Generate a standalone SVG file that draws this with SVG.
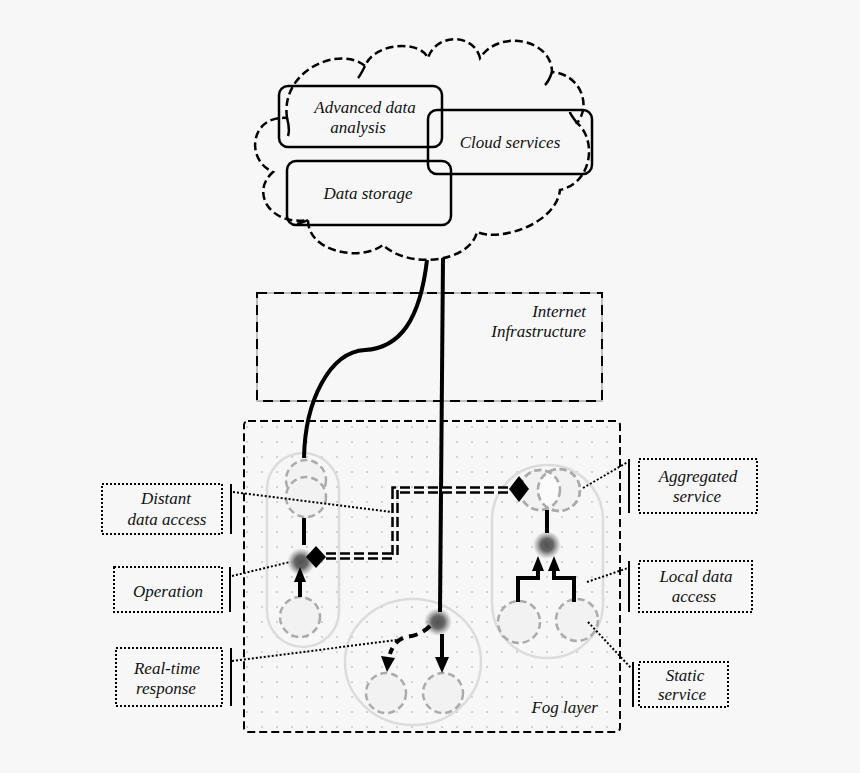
<svg xmlns="http://www.w3.org/2000/svg" width="860" height="773" viewBox="0 0 860 773">
<defs>
<style>
.t{font-family:"Liberation Serif","DejaVu Serif",serif;font-style:italic;font-size:17px;fill:#111;}
.box{fill:none;stroke:#000;stroke-width:2.5;}
.lbl{fill:#f7f7f7;stroke:#000;stroke-width:2;stroke-dasharray:2 2;}
.brk{stroke:#000;stroke-width:2;}
.lead{fill:none;stroke:#000;stroke-width:2;stroke-dasharray:2 2;}
.pill{fill:none;stroke:#dcdcdc;stroke-width:2.5;}
.c{fill:#f2f2f2;stroke:#ababab;stroke-width:2.5;stroke-dasharray:7 4;}
.thick{fill:none;stroke:#000;stroke-width:4;}
.head{fill:#000;}
</style>
<pattern id="dots" width="15" height="15" patternUnits="userSpaceOnUse">
<rect x="6" y="6" width="2" height="2" fill="#d2d2d2"/>
</pattern>
<radialGradient id="blur">
<stop offset="0" stop-color="#505050"/>
<stop offset="0.45" stop-color="#666"/>
<stop offset="1" stop-color="#888" stop-opacity="0"/>
</radialGradient>
<clipPath id="rcl"><circle cx="540" cy="490" r="20"/></clipPath>
</defs>
<rect width="860" height="773" fill="#f7f7f7"/>

<g id="cloud">
<path d="M287,118 C280,70 340,45 365,66 C375,42 420,40 428,58 C436,33 474,33 480,58 C500,28 552,40 552,72 C580,74 592,105 577,123 C596,138 594,182 560,190 C556,224 500,242 477,232 C470,262 410,270 383,245 C360,262 308,252 308,220 C270,226 250,192 273,172 C245,160 250,115 287,118 Z" fill="none" stroke="#000" stroke-width="2.5" stroke-dasharray="8 4"/>
<path d="M287,118 C289,125 290,130 288,136 M365,66 C362,72 360,76 358,78 M552,72 C550,78 548,82 545,85 M577,123 C572,116 570,114 570,112 M308,220 C304,222 300,223 297,224" fill="none" stroke="#000" stroke-width="2.5"/>
</g>

<g id="adv">
<rect class="box" x="279" y="86" width="163" height="61" rx="9"/>
<text class="t" x="365" y="113" text-anchor="middle">Advanced data</text>
<text class="t" x="358" y="133" text-anchor="middle">analysis</text>
</g>
<g id="cloudsvc">
<rect class="box" x="428" y="110" width="164" height="64" rx="9"/>
<text class="t" x="510" y="148" text-anchor="middle">Cloud services</text>
</g>
<g id="storage">
<rect class="box" x="287" y="161" width="164" height="64" rx="9"/>
<text class="t" x="368" y="199" text-anchor="middle">Data storage</text>
</g>

<g id="internet">
<rect x="257" y="293" width="345" height="108" fill="none" stroke="#aaa" stroke-width="1.5"/>
<rect x="257" y="293" width="345" height="108" fill="none" stroke="#000" stroke-width="2" stroke-dasharray="10 7"/>
<text class="t" x="586" y="317" text-anchor="end">Internet</text>
<text class="t" x="586" y="337" text-anchor="end">Infrastructure</text>
</g>

<g id="fog">
<rect x="244" y="421" width="376" height="311" rx="4" fill="url(#dots)" stroke="#000" stroke-width="2" stroke-dasharray="8 4"/>
<text class="t" x="598" y="713" text-anchor="end">Fog layer</text>
</g>

<g id="leftpill">
<rect class="pill" x="267" y="453" width="72" height="194" rx="36"/>
<circle class="c" cx="306" cy="480" r="20"/>
<circle class="c" cx="306" cy="497" r="20"/>
<circle class="c" cx="300" cy="617" r="20"/>
<circle cx="301" cy="562" r="14" fill="url(#blur)"/>
<path d="M316,546 L326,557 L316,568 L306,557 Z" fill="#000"/>
</g>

<g id="rightpill">
<rect class="pill" x="492" y="465" width="111" height="193" rx="55"/>
<circle class="c" cx="540" cy="490" r="20"/>
<circle class="c" cx="559" cy="490" r="21"/>
<circle cx="559" cy="490" r="21" fill="#fbfbfb" clip-path="url(#rcl)"/>
<circle cx="540" cy="490" r="20" fill="none" stroke="#ababab" stroke-width="2.5" stroke-dasharray="7 4"/>
<circle cx="559" cy="490" r="21" fill="none" stroke="#ababab" stroke-width="2.5" stroke-dasharray="7 4"/>
<circle class="c" cx="519" cy="622" r="21"/>
<circle class="c" cx="577" cy="620" r="21"/>
<circle cx="547" cy="545" r="14" fill="url(#blur)"/>
<path d="M519,476 L529,489 L519,502 L509,489 Z" fill="#000"/>
</g>

<g id="bottomgroup">
<ellipse class="pill" cx="413" cy="662" rx="68" ry="63"/>
<circle class="c" cx="386" cy="693" r="20"/>
<circle class="c" cx="443" cy="693" r="20"/>
<circle cx="438" cy="622" r="14" fill="url(#blur)"/>
</g>

<g id="connectors">
<path class="thick" d="M427,260 C420,320 400,348 365,350 C330,352 305,400 304,458"/>
<path class="thick" d="M443,258 L440,612"/>
<path class="thick" d="M304,518 L304,545"/>
<path class="thick" d="M300,597 L300,580"/>
<path class="head" d="M300,567 L306,582 L294,582 Z"/>
<path class="thick" d="M547,510 L547,533"/>
<path class="thick" d="M518,602 L518,578 L538,578 L538,570"/>
<path class="head" d="M538,556 L544,571 L532,571 Z"/>
<path class="thick" d="M574,602 L574,578 L554,578 L554,570"/>
<path class="head" d="M554,556 L560,571 L548,571 Z"/>
<path class="thick" d="M442,634 L442,660"/>
<path class="head" d="M442,673 L435,657 L449,657 Z"/>
<path class="thick" d="M430,626 Q420,636 405,637 Q394,641 390,654" stroke-dasharray="9 6"/>
<path class="head" d="M387,672 L381,656 L395,658 Z"/>
<path d="M326,556 L395,556 L395,490 L510,490" fill="none" stroke="#000" stroke-width="7.5" stroke-dasharray="10 4"/>
<path d="M326,556 L395,556 L395,490 L510,490" fill="none" stroke="#f7f7f7" stroke-width="2.5" stroke-dasharray="10 4"/>
<path class="lead" d="M233,492 L392,512"/>
<path class="lead" d="M232,576 L290,562"/>
<path class="lead" d="M232,661 L397,640"/>
<path class="lead" d="M583,488 L628,462"/>
<path class="lead" d="M587,582 L628,568"/>
<path class="lead" d="M588,622 L631,668"/>
</g>

<g id="lbl-distant">
<rect class="lbl" x="102" y="484" width="120" height="50"/>
<line class="brk" x1="231" y1="484" x2="231" y2="534"/>
<text class="t" x="166" y="504" text-anchor="middle">Distant</text>
<text class="t" x="167" y="525" text-anchor="middle">data access</text>
</g>
<g id="lbl-operation">
<rect class="lbl" x="114" y="567" width="108" height="45"/>
<line class="brk" x1="230" y1="567" x2="230" y2="612"/>
<text class="t" x="168" y="597" text-anchor="middle">Operation</text>
</g>
<g id="lbl-realtime">
<rect class="lbl" x="116" y="648" width="106" height="58"/>
<line class="brk" x1="231" y1="648" x2="231" y2="706"/>
<text class="t" x="167" y="674" text-anchor="middle">Real-time</text>
<text class="t" x="166" y="694" text-anchor="middle">response</text>
</g>
<g id="lbl-aggregated">
<rect class="lbl" x="639" y="459" width="118" height="54"/>
<line class="brk" x1="629" y1="459" x2="629" y2="513"/>
<text class="t" x="698" y="482" text-anchor="middle">Aggregated</text>
<text class="t" x="697" y="502" text-anchor="middle">service</text>
</g>
<g id="lbl-local">
<rect class="lbl" x="639" y="561" width="113" height="51"/>
<line class="brk" x1="629" y1="561" x2="629" y2="612"/>
<text class="t" x="696" y="582" text-anchor="middle">Local data</text>
<text class="t" x="694" y="602" text-anchor="middle">access</text>
</g>
<g id="lbl-static">
<rect class="lbl" x="639" y="662" width="89" height="45"/>
<line class="brk" x1="633" y1="662" x2="633" y2="707"/>
<text class="t" x="685" y="681" text-anchor="middle">Static</text>
<text class="t" x="682" y="700" text-anchor="middle">service</text>
</g>
</svg>
